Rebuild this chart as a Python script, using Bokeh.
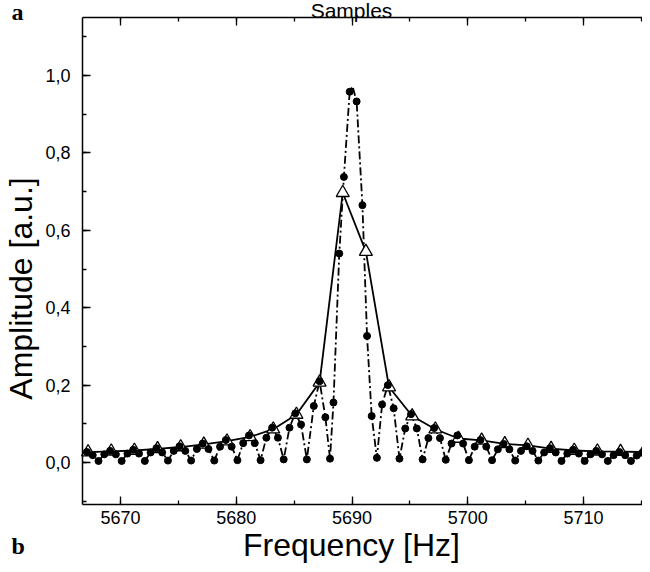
import math
from bokeh.plotting import figure
from bokeh.models import (Range1d, LinearAxis, SingleIntervalTicker, CustomJSTickFormatter,
                          ColumnDataSource, Label)
from bokeh.embed import file_html
from bokeh.resources import INLINE

# ---------------- data ----------------
tri_freq = [5667.2, 5669.2, 5671.2, 5673.2, 5675.2, 5677.2, 5679.2, 5681.2, 5683.2, 5685.2,
            5687.2, 5689.2, 5691.2, 5693.2, 5695.2, 5697.2, 5699.2, 5701.2, 5703.2, 5705.2,
            5707.2, 5709.2, 5711.2, 5713.2, 5715.2]
tri_amp = [0.027, 0.029, 0.031, 0.035, 0.040, 0.047, 0.055, 0.066, 0.086, 0.124,
           0.207, 0.697, 0.545, 0.195, 0.120, 0.086, 0.062, 0.057, 0.048, 0.044,
           0.036, 0.031, 0.029, 0.028, 0.027]

dot_freq = [5667.1, 5667.6, 5668.1, 5668.6, 5669.1, 5669.6, 5670.1, 5670.6,
            5671.1, 5671.6, 5672.1, 5672.6, 5673.1, 5673.6, 5674.1, 5674.6,
            5675.1, 5675.6, 5676.1, 5676.6, 5677.1, 5677.6, 5678.1, 5678.6,
            5679.1, 5679.6, 5680.1, 5680.6, 5681.1, 5681.6, 5682.1, 5682.6,
            5683.1, 5683.6, 5684.1, 5684.6, 5685.1, 5685.6, 5686.1, 5686.7,
            5687.2, 5687.7, 5688.1, 5688.4, 5688.9, 5689.3, 5689.8, 5690.4,
            5690.9, 5691.3, 5691.7, 5692.15, 5692.6, 5693.1, 5693.6, 5694.1,
            5694.6, 5695.1, 5695.6, 5696.1, 5696.6, 5697.1, 5697.6, 5698.1,
            5698.6, 5699.1, 5699.6, 5700.1, 5700.6, 5701.1, 5701.6, 5702.1,
            5702.6, 5703.1, 5703.6, 5704.1, 5704.6, 5705.1, 5705.6, 5706.1,
            5706.6, 5707.1, 5707.6, 5708.1, 5708.6, 5709.1, 5709.6, 5710.1,
            5710.6, 5711.1, 5711.6, 5712.1, 5712.6, 5713.1, 5713.6, 5714.1,
            5714.6, 5715.1, 5715.6]
dot_amp = [0.027, 0.019, 0.004, 0.021, 0.030, 0.021, 0.004, 0.023,
           0.033, 0.023, 0.004, 0.026, 0.037, 0.026, 0.005, 0.030,
           0.042, 0.030, 0.005, 0.035, 0.049, 0.035, 0.005, 0.041,
           0.058, 0.041, 0.006, 0.050, 0.070, 0.050, 0.006, 0.064,
           0.090, 0.064, 0.008, 0.090, 0.127, 0.098, 0.008, 0.146,
           0.210, 0.117, 0.010, 0.155, 0.540, 0.738, 0.958, 0.933,
           0.665, 0.327, 0.120, 0.012, 0.150, 0.200, 0.140, 0.010,
           0.088, 0.125, 0.088, 0.008, 0.063, 0.089, 0.063, 0.007,
           0.049, 0.070, 0.049, 0.006, 0.041, 0.058, 0.041, 0.006,
           0.034, 0.048, 0.034, 0.005, 0.030, 0.042, 0.030, 0.005,
           0.026, 0.037, 0.026, 0.004, 0.023, 0.033, 0.023, 0.004,
           0.021, 0.030, 0.021, 0.004, 0.019, 0.027, 0.019, 0.004,
           0.018, 0.026, 0.018]

peak_freq = 5690.05
peak_amp = 0.972

curve = sorted(list(zip(dot_freq, dot_amp)) + [(peak_freq, peak_amp)])
curve_freq = [c[0] for c in curve]
curve_amp = [c[1] for c in curve]

x_tick_step = 10
y_tick_step = 0.2

title_text = "Samples"
x_title = "Frequency [Hz]"
y_title = "Amplitude [a.u.]"
panel_a = "a"
panel_b = "b"

# ---------------- layout (pixels on the canvas, top-left origin) ----------------
W, H = 642, 564
BOX_L, BOX_R, BOX_T, BOX_B = 82, 642, 17, 504
PX_PER_HZ = 11.575            # 5670 at px 120
X_REF_VAL, X_REF_PX = 5670, 120
PX_PER_UNIT = 387.0           # 0.0 at px 462
Y_ZERO_PX = 462


def px_to_x(px):
    return X_REF_VAL + (px - X_REF_PX) / PX_PER_HZ


def py_to_y(py):
    return (Y_ZERO_PX - py) / PX_PER_UNIT


x0, x1 = px_to_x(0), px_to_x(W)
y0, y1 = py_to_y(H), py_to_y(0)
bx0, bx1 = px_to_x(BOX_L), px_to_x(BOX_R)
by0, by1 = py_to_y(BOX_B), py_to_y(BOX_T)

FONT = "Liberation Sans"
SERIF = "Liberation Serif"

p = figure(width=W, height=H, output_backend="svg", toolbar_location=None, title=None,
           x_range=Range1d(x0, x1), y_range=Range1d(y0, y1),
           x_axis_location=None, y_axis_location=None,
           min_border=0, min_border_left=0, min_border_right=0,
           min_border_top=0, min_border_bottom=0)
p.outline_line_color = None
p.grid.visible = False
p.background_fill_color = "white"
p.border_fill_color = "white"


def style_axis(ax):
    ax.axis_line_width = 1.5
    ax.axis_line_color = "black"
    ax.major_tick_in = 8
    ax.major_tick_out = 0
    ax.minor_tick_in = 4
    ax.minor_tick_out = 0
    ax.major_tick_line_width = 1.3
    ax.minor_tick_line_width = 1.3
    ax.major_tick_line_color = "black"
    ax.minor_tick_line_color = "black"
    ax.major_label_text_font = FONT
    ax.major_label_text_font_size = "18px"
    ax.major_label_text_color = "black"


xb = LinearAxis(ticker=SingleIntervalTicker(interval=x_tick_step, num_minor_ticks=2),
                fixed_location=by0, bounds=(bx0, bx1))
style_axis(xb)
xb.major_label_standoff = 6
p.add_layout(xb, "below")

xt = LinearAxis(ticker=SingleIntervalTicker(interval=x_tick_step, num_minor_ticks=2),
                fixed_location=by1, bounds=(bx0, bx1),
                formatter=CustomJSTickFormatter(code="return '';"))
style_axis(xt)
p.add_layout(xt, "above")

yl = LinearAxis(ticker=SingleIntervalTicker(interval=y_tick_step, num_minor_ticks=2),
                fixed_location=bx0, bounds=(by0, by1),
                formatter=CustomJSTickFormatter(code="return tick.toFixed(1).replace('.', ',');"))
style_axis(yl)
yl.major_label_standoff = 12
p.add_layout(yl, "left")

# ---------------- series ----------------
curve_src = ColumnDataSource(dict(x=curve_freq, y=curve_amp))
dot_src = ColumnDataSource(dict(x=dot_freq, y=dot_amp))
tri_src = ColumnDataSource(dict(x=tri_freq, y=tri_amp))

p.line("x", "y", source=curve_src, line_color="black", line_width=1.8, line_dash="8 3 2 3")
p.line("x", "y", source=tri_src, line_color="black", line_width=1.8)
p.scatter("x", "y", source=tri_src, marker="triangle", size=13, fill_color="white",
          line_color="black", line_width=1.3)
p.scatter("x", "y", source=dot_src, marker="circle", size=7, fill_color="black",
          line_color="black")

# ---------------- texts (anchored at their centres) ----------------
def add_text(text, px, py, size, font=FONT, style="normal", align="center", angle=0.0):
    p.add_layout(Label(x=px_to_x(px), y=py_to_y(py), text=text, text_font=font,
                       text_font_style=style, text_font_size=size, text_align=align,
                       text_baseline="middle", angle=angle, text_color="black"))


add_text(title_text, 351, 10, "21px")
add_text(panel_a, 11, 11, "24px", font=SERIF, style="bold", align="left")
add_text(x_title, 351, 544, "32px")
add_text(panel_b, 11, 545, "24px", font=SERIF, style="bold", align="left")
add_text(y_title, 20, 288, "32px", angle=math.pi / 2)

open("out.html", "w").write(file_html(p, INLINE))
